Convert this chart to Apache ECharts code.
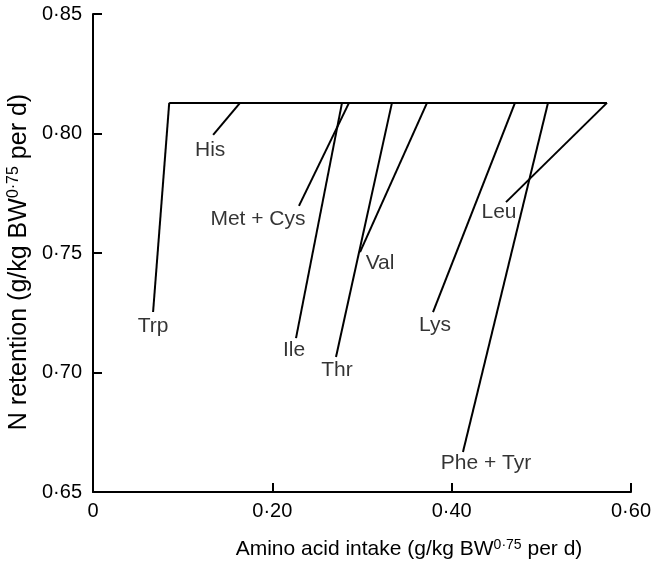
<!DOCTYPE html>
<html>
<head>
<meta charset="utf-8">
<script src="https://cdn.jsdelivr.net/npm/echarts@6/dist/echarts.min.js"></script>
<style>
  html, body { margin: 0; padding: 0; background: #fff; }
  #chart { width: 661px; height: 563px; }
</style>
</head>
<body>
<div id="chart"></div>
<script>
// amino acids, one line each from the plateau down to its label
const aminoAcids = ['Trp', 'His', 'Met + Cys', 'Ile', 'Thr', 'Val', 'Lys', 'Phe + Tyr', 'Leu']
// intake where each line meets the plateau
const topIntake = [0.085, 0.164, 0.2855, 0.2777, 0.3334, 0.3725, 0.4706, 0.5074, 0.5732]
// intake and N retention at the lower (labelled) end
const lowIntake = [0.067, 0.134, 0.2297, 0.2264, 0.271, 0.2978, 0.3792, 0.4126, 0.4606]
const lowRetention = [0.7253, 0.7994, 0.7697, 0.7144, 0.7065, 0.7504, 0.7253, 0.6667, 0.7713]
// plateau of N retention
const plateauRetention = 0.8128
const plateauStart = 0.085
const plateauEnd = 0.5732
// axis ticks
const xTicks = [0, 0.2, 0.4, 0.6]
const yTicks = [0.65, 0.7, 0.75, 0.8, 0.85]

// label placement relative to the lower end (pixels)
const labelOffsets = [[0, 14], [-3, 15], [-41, 13], [-2, 12], [1, 13], [20, 11], [2, 13], [23, 11], [-7, 10]]

const FONT = 'Liberation Sans, Arial, Helvetica, sans-serif'
const fmt = v => (Math.abs(v) < 1e-9 ? '0' : v.toFixed(2).replace('.', '·'))

const chart = echarts.init(document.getElementById('chart'))

const lineSeries = aminoAcids.map((name, i) => ({
  name: name,
  type: 'line',
  symbol: 'none',
  silent: true,
  lineStyle: { color: '#000', width: 2 },
  data: [[topIntake[i], plateauRetention], [lowIntake[i], lowRetention[i]]]
}))

const option = {
  animation: false,
  grid: { left: 93, right: 30, top: 14, bottom: 71 },
  xAxis: {
    type: 'value',
    min: xTicks[0],
    max: xTicks[xTicks.length - 1],
    interval: 0.2,
    axisLine: { lineStyle: { color: '#000', width: 2 } },
    axisTick: { inside: true, length: 9, lineStyle: { color: '#000', width: 2 } },
    axisLabel: { color: '#000', fontSize: 20, fontFamily: FONT, margin: 9, formatter: fmt },
    splitLine: { show: false }
  },
  yAxis: {
    type: 'value',
    min: yTicks[0],
    max: yTicks[yTicks.length - 1],
    interval: 0.05,
    axisLine: { lineStyle: { color: '#000', width: 2 } },
    axisTick: { inside: true, length: 9, lineStyle: { color: '#000', width: 2 } },
    axisLabel: { color: '#000', fontSize: 20, fontFamily: FONT, margin: 11, formatter: fmt },
    splitLine: { show: false }
  },
  graphic: [
    {
      type: 'text',
      x: 409,
      y: 538,
      style: {
        text: 'Amino acid intake (g/kg BW{sup|0·75} per d)',
        fill: '#000',
        font: '21px ' + FONT,
        align: 'center',
        verticalAlign: 'top',
        rich: { sup: { fontSize: 14, padding: [0, 0, 9, 0] } }
      }
    },
    {
      type: 'text',
      x: 6,
      y: 262,
      rotation: Math.PI / 2,
      style: {
        text: 'N retention (g/kg BW{sup|0·75} per d)',
        fill: '#000',
        font: '25px ' + FONT,
        align: 'center',
        verticalAlign: 'top',
        rich: { sup: { fontSize: 16, padding: [0, 0, 11, 0] } }
      }
    }
  ],
  series: [
    {
      name: 'plateau',
      type: 'line',
      symbol: 'none',
      silent: true,
      lineStyle: { color: '#000', width: 2 },
      data: [[plateauStart, plateauRetention], [plateauEnd, plateauRetention]]
    },
    ...lineSeries,
    {
      name: 'labels',
      type: 'scatter',
      symbolSize: 1,
      silent: true,
      itemStyle: { color: 'rgba(0,0,0,0)' },
      label: {
        show: true,
        position: 'inside',
        color: '#000',
        fontSize: 21,
        fontFamily: FONT,
        formatter: p => p.data.name
      },
      data: aminoAcids.map((name, i) => ({
        name: name,
        value: [lowIntake[i], lowRetention[i]],
        label: { offset: labelOffsets[i] }
      }))
    }
  ]
}

chart.setOption(option)
</script>
</body>
</html>
